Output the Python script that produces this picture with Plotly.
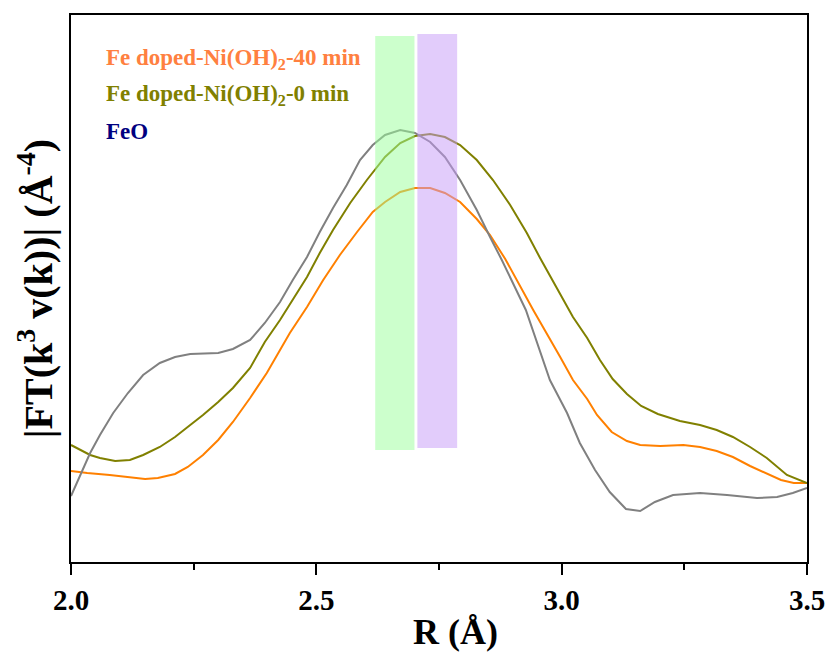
import plotly.graph_objects as go

# R (Å) and |FT| magnitude (arb. units) for each sample
r_feo = [2.000, 2.039, 2.059, 2.086, 2.116, 2.147, 2.181, 2.212, 2.243, 2.300,
         2.330, 2.365, 2.395, 2.426, 2.452, 2.481, 2.507, 2.534, 2.562, 2.589,
         2.615, 2.640, 2.671, 2.701, 2.732, 2.762, 2.793, 2.827, 2.854, 2.878,
         2.927, 2.976, 3.011, 3.037, 3.068, 3.098, 3.131, 3.160, 3.190, 3.227,
         3.282, 3.337, 3.398, 3.439, 3.471, 3.500]
ft_feo = [1.32, 2.18, 2.54, 2.98, 3.38, 3.74, 3.98, 4.10, 4.16, 4.18,
          4.26, 4.44, 4.78, 5.20, 5.64, 6.10, 6.60, 7.08, 7.54, 8.04,
          8.34, 8.54, 8.64, 8.58, 8.40, 8.10, 7.64, 7.04, 6.50, 6.04,
          5.04, 3.64, 2.98, 2.38, 1.84, 1.40, 1.06, 1.02, 1.20, 1.34,
          1.38, 1.34, 1.28, 1.30, 1.38, 1.48]

r_0min = [2.000, 2.039, 2.059, 2.090, 2.120, 2.147, 2.181, 2.212, 2.243, 2.269,
          2.300, 2.330, 2.365, 2.395, 2.426, 2.452, 2.481, 2.507, 2.534, 2.569,
          2.603, 2.640, 2.671, 2.701, 2.732, 2.762, 2.793, 2.827, 2.860, 2.895,
          2.929, 2.956, 2.997, 3.023, 3.052, 3.078, 3.104, 3.133, 3.162, 3.196,
          3.241, 3.282, 3.316, 3.349, 3.384, 3.418, 3.459, 3.480, 3.500]
ft_0min = [2.34, 2.14, 2.08, 2.02, 2.04, 2.14, 2.30, 2.50, 2.74, 2.94,
           3.20, 3.48, 3.88, 4.40, 4.84, 5.24, 5.70, 6.18, 6.64, 7.18,
           7.64, 8.10, 8.38, 8.52, 8.56, 8.50, 8.34, 8.04, 7.64, 7.14,
           6.58, 6.08, 5.34, 4.90, 4.48, 4.04, 3.66, 3.36, 3.12, 2.96,
           2.82, 2.74, 2.64, 2.50, 2.30, 2.08, 1.74, 1.66, 1.58]

r_40min = [2.000, 2.033, 2.079, 2.120, 2.151, 2.177, 2.212, 2.238, 2.269, 2.300,
           2.330, 2.365, 2.399, 2.446, 2.481, 2.514, 2.548, 2.583, 2.615, 2.640,
           2.671, 2.701, 2.732, 2.762, 2.793, 2.827, 2.854, 2.885, 2.942, 2.997,
           3.023, 3.052, 3.072, 3.102, 3.133, 3.160, 3.201, 3.248, 3.282, 3.316,
           3.349, 3.384, 3.418, 3.447, 3.473, 3.500]
ft_40min = [1.82, 1.78, 1.74, 1.70, 1.66, 1.68, 1.76, 1.90, 2.14, 2.44,
            2.80, 3.28, 3.78, 4.58, 5.10, 5.64, 6.14, 6.60, 7.00, 7.20,
            7.40, 7.48, 7.48, 7.38, 7.20, 6.86, 6.54, 6.06, 5.04, 4.10,
            3.64, 3.26, 2.94, 2.60, 2.42, 2.34, 2.32, 2.34, 2.30, 2.22,
            2.10, 1.92, 1.76, 1.64, 1.58, 1.58]

# Highlighted R windows and their vertical extent
band_green = [2.620, 2.700]
band_purple = [2.706, 2.787]
band_green_y = [2.24, 10.52]
band_purple_y = [2.28, 10.56]

legend_labels = ["Fe doped-Ni(OH)<sub>2</sub>-40 min",
                 "Fe doped-Ni(OH)<sub>2</sub>-0 min",
                 "FeO"]
legend_colors = ["#ff8040", "#808000", "#000080"]
legend_y = [10.06, 9.34, 8.62]

x_range = [2.0, 3.5]
y_range = [0.0, 10.94]

SERIF = "Times New Roman, Liberation Serif, serif"

fig = go.Figure()
fig.add_trace(go.Scatter(x=r_40min, y=ft_40min, mode="lines",
                         line=dict(color="#ff8000", width=2), showlegend=False))
fig.add_trace(go.Scatter(x=r_0min, y=ft_0min, mode="lines",
                         line=dict(color="#808000", width=2), showlegend=False))
fig.add_trace(go.Scatter(x=r_feo, y=ft_feo, mode="lines",
                         line=dict(color="#808080", width=2), showlegend=False))

fig.add_shape(type="rect", xref="x", yref="y",
              x0=band_green[0], x1=band_green[1], y0=band_green_y[0], y1=band_green_y[1],
              fillcolor="rgb(153,255,153)", opacity=0.5, line=dict(width=0), layer="above")
fig.add_shape(type="rect", xref="x", yref="y",
              x0=band_purple[0], x1=band_purple[1], y0=band_purple_y[0], y1=band_purple_y[1],
              fillcolor="rgb(197,153,247)", opacity=0.5, line=dict(width=0), layer="above")

for label, color, yy in zip(legend_labels, legend_colors, legend_y):
    fig.add_annotation(x=2.068, y=yy, xref="x", yref="y", text=label,
                       showarrow=False, xanchor="left", yanchor="middle",
                       font=dict(family=SERIF, size=23, color=color, weight="bold"))

# x-axis title, placed slightly right of the plot centre
fig.add_annotation(x=0.523, y=-0.128, xref="paper", yref="paper", text="R (Å)",
                   showarrow=False, xanchor="center", yanchor="middle",
                   font=dict(family=SERIF, size=36, color="black", weight="bold"))

fig.update_xaxes(range=x_range, showline=True, linecolor="black", linewidth=2,
                 mirror=True, ticks="outside", ticklen=11, tickwidth=2, tickcolor="black",
                 dtick=0.5, tick0=2.0, tickformat=".1f",
                 minor=dict(dtick=0.25, ticks="outside", ticklen=6, tickwidth=2, tickcolor="black"),
                 showgrid=False, zeroline=False, automargin=False,
                 tickfont=dict(family=SERIF, size=29, color="black", weight="bold"))
fig.update_yaxes(range=y_range, showline=True, linecolor="black", linewidth=2,
                 mirror=True, ticks="", showticklabels=False, showgrid=False, zeroline=False,
                 automargin=False,
                 title=dict(text="|FT(k<sup>3</sup> v(k))| (Å<sup>-4</sup>)", standoff=4,
                            font=dict(family=SERIF, size=40, color="black", weight="bold")))

fig.update_layout(width=832, height=655, plot_bgcolor="white", paper_bgcolor="white",
                  margin=dict(l=71, r=25, t=15, b=93))

fig.write_html("out.html")
